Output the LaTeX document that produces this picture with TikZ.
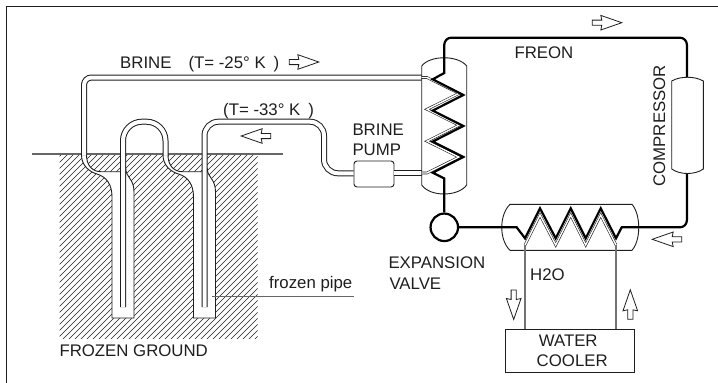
\documentclass[tikz,border=0pt]{standalone}
\usepackage{fontspec}
\setmainfont{Liberation Sans}
\definecolor{ink}{HTML}{1E1E1E}
\tikzset{
  x=1pt,y=-1pt,
  pipe/.style={draw=ink,line width=1pt,double=white,double distance=4pt},
  thinpipe/.style={draw=ink,line width=0.6pt,double=white,double distance=1.4pt},
  wall/.style={draw=ink,line width=0.9pt},
  freon/.style={draw=black,line width=2.2pt},
  water/.style={draw=black!55,line width=1.4pt},
  grey rule/.style={draw=black!60,line width=1.2pt},
  hull/.style={draw=ink,line width=0.9pt,fill=white},
  label/.style={text=ink,inner sep=0pt,anchor=base west,font=\fontsize{16.8}{20.5}\selectfont},
  blank/.style={inner sep=0pt,minimum size=0pt},
  hollow/.pic={\draw[draw=ink,line width=0.8pt,fill=white,line join=miter]
     (0,-2.6) -- (9.5,-2.6) -- (8.5,-7.3) -- (29.5,0) -- (8.5,7.3) -- (9.5,2.6) -- (0,2.6) -- cycle;}
}
\newcommand{\shaftfill}[1]{%
  \fill[white,xshift=#1pt] (81.5,155) .. controls (81.5,166) and (90,172) .. (97,174)
    .. controls (107,177) and (112,185) .. (112,197) -- (112,318) -- (134,318) -- (134,192)
    .. controls (134,178) and (125.7,178) .. (125.7,168) -- (120.7,171.7) -- (101,171.7)
    .. controls (92,171.7) and (86.5,165) .. (86.5,155) -- cycle;
}
\newcommand{\shaftwalls}[1]{%
  \draw[wall,xshift=#1pt] (81.5,155) .. controls (81.5,166) and (90,172) .. (97,174)
    .. controls (107,177) and (112,185) .. (112,197) -- (112,318) -- (134,318) -- (134,192)
    .. controls (134,178) and (125.7,178) .. (125.7,168);
  \draw[wall,xshift=#1pt] (86.5,155) .. controls (86.5,165) and (92,171.7) .. (101,171.7) -- (120.7,171.7);
}
\begin{document}
\begin{tikzpicture}
\useasboundingbox (0,0) rectangle (718,383);
% frame
\draw[draw=ink,line width=1pt] (6,383) -- (6,6) -- (718,6);
% frozen ground
\begin{scope}
  \clip (59.5,154) rectangle (257.5,338);
  \foreach \k in {0,6,...,420}
    \draw[draw=ink,line width=0.6pt] (-140+\k,344) -- (60+\k,144);
\end{scope}
\shaftfill{0}
\shaftfill{81.5}
\shaftwalls{0}
\shaftwalls{81.5}
\draw[grey rule] (32,154) -- (283,154);
% invisible anchors for the equipment
\node[blank,minimum width=45pt,minimum height=137pt] (hxa) at (444.2,125.6) {};
\node[blank,minimum width=40pt,minimum height=26pt,draw=ink,line width=0.9pt,fill=white,rounded corners=3pt] (pump) at (374,174) {};
% brine circuit
\draw[pipe,rounded corners=7.5pt] (hxa.west |- 0,77.5) -- (84,77.5) -- (84,155);
\draw[pipe,rounded corners=19pt] (123,307) -- (123,121.7) -- (165.5,121.7) -- (165.5,155);
\draw[pipe,rounded corners=14pt] (204.5,307) -- (204.5,121.7) -- (324,121.7) -- (324,173.3) -- (pump.west |- 0,173.3);
\draw[pipe] (pump.east |- 0,173.3) -- (hxa.west |- 0,173.3);
% heat exchanger shells
\draw[hull,fill=none] (421.7,66) .. controls (430,55) and (458,55) .. (466.7,66) -- (466.7,185)
   .. controls (458,197) and (430,197) .. (421.7,185) -- cycle;
\node[blank,minimum width=136pt,minimum height=46pt] (hxb) at (570.5,227.3) {};
\draw[hull,fill=none] (510,204.3) -- (632,204.3) .. controls (641,215) and (641,240) .. (632,250.3)
   -- (510,250.3) .. controls (499,240) and (499,215) .. (510,204.3) -- cycle;
% inner coils
\draw[thinpipe] (hxa.west |- 0,77.5) -- (427,77.5) -- (459,93.4) -- (427,109.3) -- (459,125.2) -- (427,141.2) -- (459,157.1) -- (427,173) -- (hxa.west |- 0,173);
\draw[thinpipe] (525,245) -- (540,215) -- (555.7,245) -- (570.7,215) -- (585.7,245) -- (600.7,215) -- (616,245);
% water cooler and water lines
\node[draw=ink,line width=0.9pt,minimum width=129pt,minimum height=43.3pt,inner sep=0pt,align=center,text=ink,font=\fontsize{16.8}{20.5}\selectfont] (cooler) at (570.2,350.6) {WATER\hspace*{4pt}\\\hspace*{4pt}COOLER};
\draw[water] (525,245) -- (525 ,0 |- cooler.north);
\draw[water] (616,245) -- (616,0 |- cooler.north);
% freon circuit
\node[draw=black,line width=2.2pt,circle,fill=white,minimum size=27.5pt,inner sep=0pt] (valve) at (444.3,227.3) {};
\draw[freon,line join=miter] (valve) -- (516.7,227.3) -- (525,238.3) -- (540,208.3) -- (555.7,238.3) -- (570.7,208.3) -- (585.7,238.3) -- (600.7,208.3) -- (616,238.3) -- (621.7,227.3)
  [rounded corners=7pt] -- (686.9,227.3) -- (686.9,37.7) -- (444.3,37.7) [sharp corners]
  -- (444.3,73) -- (432.7,79.3) -- (463.3,95) -- (432.7,110.6) -- (463.3,126) -- (432.7,141.6) -- (463.3,157) -- (432.7,172.7) -- (444.3,178.5) -- (valve);
% compressor
\node[blank,minimum width=32pt,minimum height=96pt] (comp) at (687.5,125.2) {};
\draw[hull] (671.7,81) .. controls (680,76) and (695,76) .. (703.3,81) -- (703.3,169)
   .. controls (695,175) and (680,175) .. (671.7,169) -- cycle;
% frozen pipe leader
\coordinate (leaderA) at (212.3,296.7);
\coordinate (leaderB) at (354,296.7);
\draw[grey rule] (leaderA) -- (leaderB);
% flow arrows
\pic at (289.3,62) {hollow};
\pic at (592.3,22.7) {hollow};
\pic[rotate=180] at (270.7,136) {hollow};
\pic[rotate=180] at (681.7,239.3) {hollow};
\pic[rotate=-90] at (513.7,290) {hollow};
\pic[rotate=90] at (630.3,319.3) {hollow};
% labels
\node[label] (t1) at (120,68.3) {BRINE\hspace{17pt}(T= -25° K\hspace{8pt})};
\node[label] (t2) at (223,115) {(T= -33° K\hspace{8pt})};
\node[label] (t3) at (514.3,58.3) {FREON};
\node[label,rotate=90] (t4) at (665,186.7) {COMPRESSOR};
\node[label] (t5) at (352.3,135) {BRINE};
\node[label] (t6) at (352.3,155) {PUMP};
\node[label] (t7) at (388.3,268.3) {EXPANSION};
\node[label] (t8) at (389.3,289) {VALVE};
\node[label] (t9) at (530,280.7) {H2O};
\node[label] (t10) at (269,288.3) {frozen pipe};
\node[label] (t11) at (59.3,356.7) {FROZEN GROUND};
\end{tikzpicture}
\end{document}
